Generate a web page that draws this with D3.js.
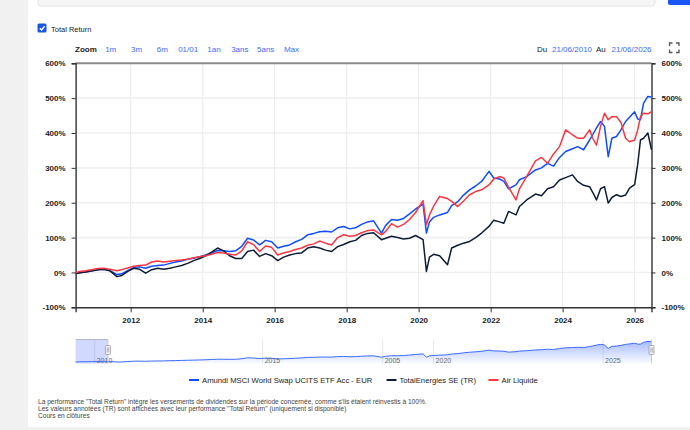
<!DOCTYPE html>
<html>
<head>
<meta charset="utf-8">
<script src="https://cdn.jsdelivr.net/npm/d3@7"></script>
<style>
  body { margin: 0; background: #f1f1f1; font-family: "Liberation Sans", Arial, sans-serif; }
  #canvas { width: 690px; height: 430px; }
</style>
</head>
<body>
<div id="canvas"></div>
<script>
var w = 690;
var h = 430;

// data (performance in %)
var dates = ["2010-06-21","2010-08-01","2010-10-01","2010-12-01","2011-02-01","2011-04-01","2011-06-01","2011-08-15","2011-10-01","2011-12-01",
  "2012-02-01","2012-04-01","2012-06-01","2012-08-01","2012-10-01","2012-12-01","2013-02-01","2013-04-01","2013-06-01","2013-08-01",
  "2013-10-01","2013-12-01","2014-02-01","2014-04-01","2014-06-01","2014-08-01","2014-10-01","2014-12-01","2015-02-01","2015-04-01",
  "2015-06-01","2015-08-01","2015-10-01","2015-12-01","2016-02-01","2016-04-01","2016-06-01","2016-08-01","2016-10-01","2016-12-01",
  "2017-02-01","2017-04-01","2017-06-01","2017-08-01","2017-10-01","2017-12-01","2018-02-01","2018-04-01","2018-06-01","2018-08-01",
  "2018-10-01","2018-12-20","2019-02-01","2019-04-01","2019-06-01","2019-08-01","2019-10-01","2019-12-01","2020-02-15","2020-03-20",
  "2020-04-20","2020-06-01","2020-08-01","2020-10-20","2020-12-01","2021-02-01","2021-04-01","2021-06-01","2021-08-01","2021-10-01",
  "2021-12-15","2022-02-01","2022-04-01","2022-05-15","2022-07-01","2022-09-15","2022-10-20","2023-01-01","2023-04-01","2023-06-01",
  "2023-08-01","2023-10-01","2023-12-01","2024-02-01","2024-04-10","2024-06-01","2024-08-01","2024-10-01","2024-11-01","2024-12-10",
  "2025-01-20","2025-03-01","2025-04-08","2025-05-15","2025-07-01","2025-08-15","2025-10-01","2025-11-10","2026-01-01","2026-02-01",
  "2026-03-01","2026-04-01","2026-05-15","2026-06-21"];

var amundi = [-4,-1,1,4,8,9,6,-6,-4,5,
  14,16,12,18,20,21,26,30,33,38,
  41,45,50,56,63,62,60,62,75,98,
  93,79,92,88,70,75,79,88,95,108,
  112,117,118,116,128,132,125,128,138,145,
  148,113,135,152,150,155,168,182,196,113,
  145,158,165,172,192,203,222,237,248,261,
  290,271,268,261,240,251,266,275,294,300,
  313,305,330,347,355,361,352,380,395,415,
  433,419,332,385,390,409,433,445,461,440,
  438,485,505,503];

var totalEnergies = [-3,-1,1,5,8,9,5,-12,-9,3,
  12,9,-2,8,12,9,12,16,20,26,
  34,40,48,58,70,62,48,40,40,60,
  64,46,54,48,34,44,50,54,56,70,
  74,70,64,60,74,80,88,92,106,112,
  114,94,98,104,100,96,98,106,94,3,
  44,52,48,22,70,78,84,89,100,113,
  132,150,145,141,175,165,189,208,225,220,
  240,246,265,272,280,261,250,246,230,208,
  240,246,199,215,223,218,222,242,252,310,
  380,385,400,352];

var airLiquide = [-1,3,5,8,11,12,9,5,8,13,
  18,20,21,30,33,30,32,34,36,38,
  42,45,48,52,57,56,52,50,62,88,
  80,60,76,72,50,56,60,66,70,78,
  82,90,84,79,100,108,104,106,114,120,
  122,108,118,140,130,138,152,172,206,137,
  165,190,218,212,204,189,205,223,232,237,
  251,268,275,271,245,208,240,275,320,330,
  313,340,361,409,395,385,385,409,385,365,
  419,457,438,447,447,430,385,375,380,409,
  447,457,455,461];

var seriesNames = ["Amundi MSCI World Swap UCITS ETF Acc - EUR", "TotalEnergies SE (TR)", "Air Liquide"];
var seriesColors = ["#0f4dff", "#0f1d36", "#fb3640"];
var yTicks = [-100, 0, 100, 200, 300, 400, 500, 600];
var xTickYears = [2012, 2014, 2016, 2018, 2020, 2022, 2024, 2026];
var zoomButtons = ["1m", "3m", "6m", "01/01", "1an", "3ans", "5ans", "Max"];
// the navigator labels as they appear in the picture
var navTicks = [["2010", "2011-01-01"], ["2015", "2015-09-01"], ["2005", "2019-01-01"], ["2020", "2020-06-01"], ["2025", "2025-02-15"]];
var footer = [
  "La performance \"Total Return\" intègre les versements de dividendes sur la période concernée, comme s'ils étaient réinvestis à 100%.",
  "Les valeurs annotées (TR) sont affichées avec leur performance \"Total Return\" (uniquement si disponible)",
  "Cours en clôtures"
];

var parse = d3.timeParse("%Y-%m-%d");
var dd = dates.map(parse);
var series = [amundi, totalEnergies, airLiquide].map(function(vals){
  return vals.map(function(v,i){ return {date: dd[i], value: v}; });
});

var svg = d3.select("#canvas").append("svg")
  .attr("width", w)
  .attr("height", h)
  .style("font-family", "'Liberation Sans', Arial, sans-serif");

// page background
svg.append("rect").attr("x",0).attr("y",0).attr("width",w).attr("height",h).attr("fill","#f1f1f1");
svg.append("rect").attr("x",28).attr("y",0).attr("width",w-28).attr("height",427).attr("fill","white");
svg.append("rect").attr("x",38).attr("y",-4).attr("width",617).attr("height",10).attr("rx",3)
  .attr("fill","#f6f6f6").attr("stroke","#e4e4e4");
svg.append("rect").attr("x",668).attr("y",-4).attr("width",26).attr("height",9).attr("rx",2).attr("fill","#1a55f5");

// checkbox
svg.append("rect").attr("x",37.5).attr("y",23.5).attr("width",9).attr("height",9).attr("rx",1.5).attr("fill","#1a55e8");
svg.append("path").attr("d","M39.8,28.2 L41.6,30 L44.6,26.2").attr("fill","none").attr("stroke","white").attr("stroke-width",1.4);
svg.append("text").attr("x",51).attr("y",31.5).text("Total Return")
  .style("font-size","7.5px").attr("fill","#222");

// zoom row
svg.append("text").attr("x",75).attr("y",51.5).text("Zoom")
  .style("font-size","8px").style("font-weight","bold").attr("fill","#222");
var zoomX = d3.scalePoint().domain(zoomButtons).range([110.7, 291.5]);
svg.selectAll("zoombtn")
  .data(zoomButtons)
  .join("text")
  .attr("x", function(d){ return zoomX(d); })
  .attr("y", 51.5)
  .attr("text-anchor", "middle")
  .text(function(d){ return d; })
  .style("font-size","8px")
  .attr("fill","#3b6cff");

svg.append("text").attr("x",537).attr("y",51.5).text("Du").style("font-size","8px").attr("fill","#222");
svg.append("text").attr("x",552).attr("y",51.5).text("21/06/2010").style("font-size","8px").attr("fill","#3b6cff");
svg.append("text").attr("x",596).attr("y",51.5).text("Au").style("font-size","8px").attr("fill","#222");
svg.append("text").attr("x",611.5).attr("y",51.5).text("21/06/2026").style("font-size","8px").attr("fill","#3b6cff");
// fullscreen icon
svg.append("path")
  .attr("d","M669.5,46 v-3 h3 M676,43 h3 v3 M679,49.5 v3 h-3 M672.5,52.5 h-3 v-3")
  .attr("fill","none").attr("stroke","#555").attr("stroke-width",1.3);

// main plot
var plotLeft = 75.6, plotRight = 651.5, plotTop = 63.3, plotBottom = 307.3;
var xScale = d3.scaleTime()
  .domain([dd[0], dd[dd.length-1]])
  .range([plotLeft, plotRight]);
var yScale = d3.scaleLinear()
  .domain([-100, 600])
  .range([plotBottom, plotTop]);

var xTicks = xTickYears.map(function(y){ return new Date(y, 0, 1); });

svg.selectAll("vgrid")
  .data(xTicks)
  .join("line")
  .attr("x1", function(d){ return xScale(d); })
  .attr("x2", function(d){ return xScale(d); })
  .attr("y1", plotTop).attr("y2", plotBottom)
  .attr("stroke", "#e9e9e9").attr("stroke-width", 1);

svg.selectAll("hgrid")
  .data(yTicks.filter(function(d){ return d > -100; }))
  .join("line")
  .attr("x1", plotLeft).attr("x2", plotRight)
  .attr("y1", function(d){ return yScale(d); })
  .attr("y2", function(d){ return yScale(d); })
  .attr("stroke", function(d){ return d === 600 ? "#8a8a8a" : "#efefef"; })
  .attr("stroke-width", function(d){ return d === 600 ? 2 : 1.6; });

// axes
var yLeft = svg.append("g").attr("transform", "translate(" + plotLeft + ",0)")
  .call(d3.axisLeft(yScale).tickValues(yTicks).tickSize(4).tickPadding(6).tickFormat(function(d){ return d + "%"; }));
var yRight = svg.append("g").attr("transform", "translate(" + plotRight + ",0)")
  .call(d3.axisRight(yScale).tickValues(yTicks).tickSize(4).tickPadding(6).tickFormat(function(d){ return d + "%"; }));
var xAxis = svg.append("g").attr("transform", "translate(0," + plotBottom + ")")
  .call(d3.axisBottom(xScale).tickValues(xTicks).tickSize(5).tickPadding(5).tickFormat(d3.timeFormat("%Y")));

[yLeft, yRight, xAxis].forEach(function(g){
  g.select(".domain").attr("stroke", "#333").attr("stroke-width", 1.4);
  g.selectAll(".tick line").attr("stroke", "#333");
  g.selectAll("text").style("font-family", "'Liberation Sans', Arial, sans-serif")
    .style("font-size", "8px").attr("fill", "#222");
});
xAxis.selectAll("text").style("font-weight", "bold");
yLeft.selectAll("text").style("font-weight", "bold");
yRight.selectAll("text").style("font-weight", "bold");

var line = d3.line()
  .x(function(d){ return xScale(d.date); })
  .y(function(d){ return yScale(d.value); });

svg.selectAll("series")
  .data(series)
  .join("path")
  .attr("d", line)
  .attr("fill", "none")
  .attr("stroke", function(d,i){ return seriesColors[i]; })
  .attr("stroke-width", 1.5)
  .attr("stroke-linejoin", "round");

// navigator
var navTop = 339.5, navBottom = 363.5;
var navY = d3.scaleLinear()
  .domain(d3.extent(amundi))
  .range([362, 341.5]);

svg.selectAll("navgrid")
  .data(navTicks)
  .join("line")
  .attr("x1", function(d){ return xScale(parse(d[1])); })
  .attr("x2", function(d){ return xScale(parse(d[1])); })
  .attr("y1", navTop).attr("y2", navBottom)
  .attr("stroke", "#e6e6e6");

var defs = svg.append("defs");
var grad = defs.append("linearGradient").attr("id","navgrad").attr("x1",0).attr("y1",0).attr("x2",0).attr("y2",1);
grad.append("stop").attr("offset","0%").attr("stop-color","#3d6bff").attr("stop-opacity",0.45);
grad.append("stop").attr("offset","100%").attr("stop-color","#3d6bff").attr("stop-opacity",0.02);

var navArea = d3.area()
  .x(function(d){ return xScale(d.date); })
  .y0(navBottom)
  .y1(function(d){ return navY(d.value); });
var navLine = d3.line()
  .x(function(d){ return xScale(d.date); })
  .y(function(d){ return navY(d.value); });

svg.append("path").attr("d", navArea(series[0])).attr("fill", "url(#navgrad)");
svg.append("path").attr("d", navLine(series[0])).attr("fill", "none").attr("stroke", "#3a6cff").attr("stroke-width", 1);

svg.selectAll("navlabel")
  .data(navTicks)
  .join("text")
  .attr("x", function(d){ return xScale(parse(d[1])) + 2; })
  .attr("y", 362.5)
  .text(function(d){ return d[0]; })
  .style("font-size", "7px")
  .attr("fill", "#666");

// selected range mask
var maskEnd = xScale(parse("2011-05-15"));
svg.append("rect").attr("x", plotLeft).attr("y", navTop).attr("width", maskEnd - plotLeft).attr("height", navBottom - navTop)
  .attr("fill", "rgba(90,120,255,0.28)");
svg.append("line").attr("x1", plotLeft).attr("x2", maskEnd).attr("y1", navTop).attr("y2", navTop)
  .attr("stroke", "#b9b9c9").attr("stroke-width", 1);

[maskEnd, plotRight].forEach(function(hx){
  svg.append("line").attr("x1", hx).attr("x2", hx).attr("y1", navTop).attr("y2", navBottom).attr("stroke", "#ccc");
  svg.append("rect").attr("x", hx - 2.5).attr("y", 345.5).attr("width", 5).attr("height", 9).attr("rx", 1)
    .attr("fill", "#f4f4f4").attr("stroke", "#999").attr("stroke-width", 0.8);
  svg.append("line").attr("x1", hx - 0.6).attr("x2", hx - 0.6).attr("y1", 347.5).attr("y2", 352.5).attr("stroke", "#888").attr("stroke-width", 0.6);
  svg.append("line").attr("x1", hx + 0.8).attr("x2", hx + 0.8).attr("y1", 347.5).attr("y2", 352.5).attr("stroke", "#888").attr("stroke-width", 0.6);
});

// legend
var legendX = [189, 386.5, 488.5];
var legend = svg.selectAll("legend")
  .data(seriesNames)
  .join("g")
  .attr("transform", function(d,i){ return "translate(" + legendX[i] + ",380)"; });
legend.append("line").attr("x1", 0).attr("x2", 10).attr("y1", 0).attr("y2", 0)
  .attr("stroke", function(d,i){ return seriesColors[i]; }).attr("stroke-width", 2);
legend.append("text").attr("x", 13).attr("y", 2.8)
  .text(function(d){ return d; })
  .style("font-size", "7.7px")
  .attr("fill", "#222");

// footer
svg.selectAll("footer")
  .data(footer)
  .join("text")
  .attr("x", 38)
  .attr("y", function(d,i){ return 404 + i * 7.2; })
  .text(function(d){ return d; })
  .style("font-size", "6.6px")
  .attr("fill", "#444");
</script>
</body>
</html>
